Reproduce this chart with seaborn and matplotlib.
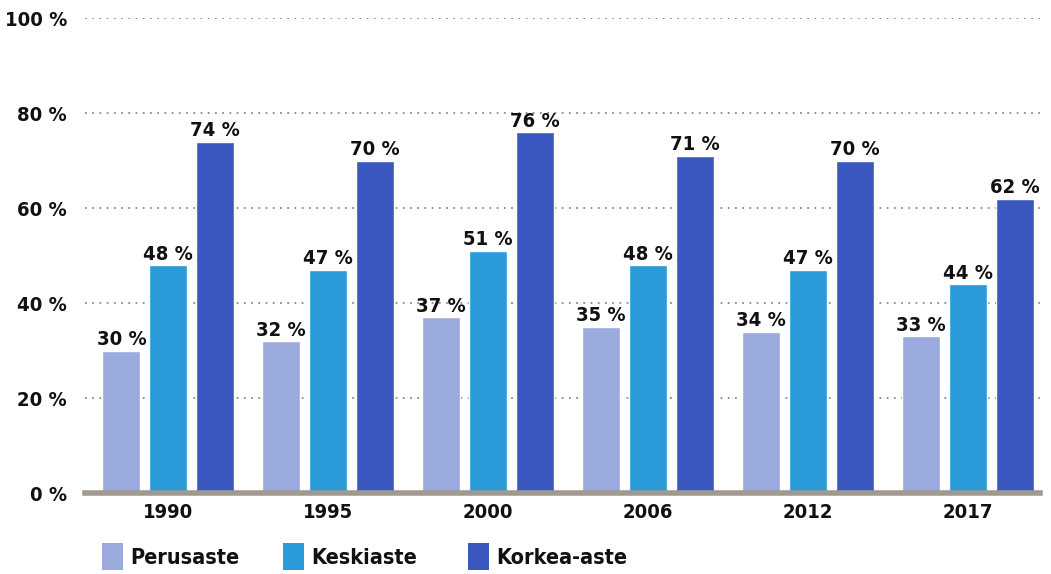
import pandas as pd
import matplotlib
matplotlib.use("Agg")
import matplotlib.pyplot as plt
import seaborn as sns
from matplotlib.patches import Rectangle

years = ["1990", "1995", "2000", "2006", "2012", "2017"]
levels = ["Perusaste", "Keskiaste", "Korkea-aste"]
perusaste = [30, 32, 37, 35, 34, 33]
keskiaste = [48, 47, 51, 48, 47, 44]
korkea_aste = [74, 70, 76, 71, 70, 62]
y_ticks = [0, 20, 40, 60, 80, 100]

colors = ["#9aaadc", "#2a9bd8", "#3a58bf"]

df = pd.DataFrame({
    "year": years * 3,
    "level": [levels[0]] * 6 + [levels[1]] * 6 + [levels[2]] * 6,
    "share": perusaste + keskiaste + korkea_aste,
})

sns.set_theme(style="white")
plt.rcParams["font.family"] = ["DejaVu Sans"]
plt.rcParams["font.stretch"] = "condensed"
plt.rcParams["font.weight"] = "bold"
plt.rcParams["text.color"] = "#111111"

fig = plt.figure(figsize=(10.51, 5.74), dpi=100)
ax = fig.add_axes([0.081, 0.141, 0.9085, 0.8275])

sns.barplot(data=df, x="year", y="share", hue="level", hue_order=levels,
            palette=colors, width=0.88, gap=0.19, saturation=1,
            legend=False, ax=ax, zorder=3)

for cont in ax.containers:
    ax.bar_label(cont, labels=[f"{int(b.get_height())} %" for b in cont],
                 padding=1, fontsize=14.5, fontweight="bold", color="#111111")

ax.set_ylim(0, 100)
ax.set_xlim(-0.52, 5.45)
ax.set_yticks(y_ticks)
ax.set_yticklabels([f"{t} %" for t in y_ticks], fontsize=14.5, fontweight="bold",
                   color="#111111")
ax.tick_params(axis="x", labelsize=14.5, length=0, pad=7, labelcolor="#111111")
ax.tick_params(axis="y", length=0, pad=13)
ax.set_xlabel("")
ax.set_ylabel("")

for t in y_ticks[1:]:
    ax.axhline(t, color="#8a8a8a", linestyle=(0, (1, 3)), linewidth=1.3, zorder=1)

for side in ["top", "right", "left"]:
    ax.spines[side].set_visible(False)
ax.spines["bottom"].set_color("#a09a90")
ax.spines["bottom"].set_linewidth(4)
ax.spines["bottom"].set_zorder(4)

# legend along the bottom
legend_x = [102, 283, 468]
W, H = 1051, 574
for x0, lab, c in zip(legend_x, levels, colors):
    fig.add_artist(Rectangle((x0 / W, (H - 570) / H), 21 / W, 27 / H,
                             facecolor=c, edgecolor="none", transform=fig.transFigure))
    fig.text((x0 + 28) / W, (H - 558) / H, lab, fontsize=15.5, fontweight="bold",
             va="center", ha="left", color="#111111")

fig.savefig("out.png", dpi=100)
